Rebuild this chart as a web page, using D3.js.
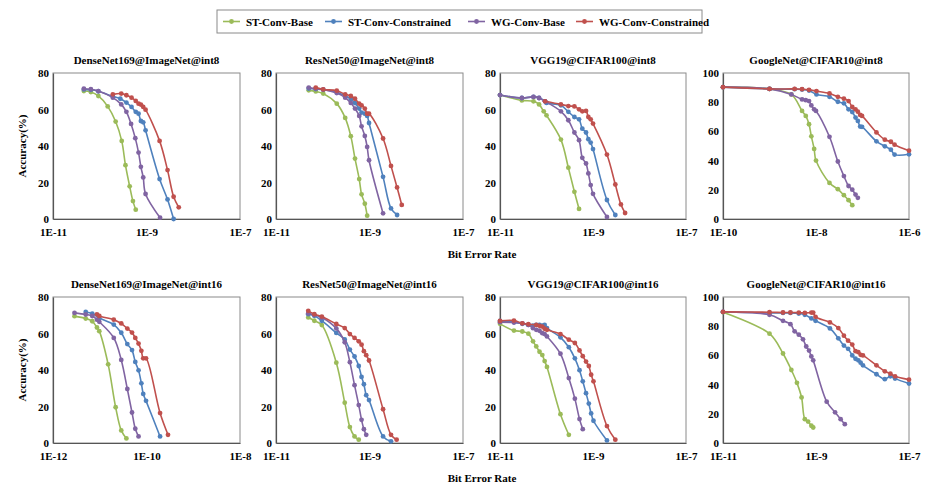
<!DOCTYPE html>
<html>
<head>
<meta charset="utf-8">
<script src="https://cdn.jsdelivr.net/npm/d3@7"></script>
<style>
  body { margin: 0; background: #fff; }
  text { font-family: "Liberation Serif", "Times New Roman", serif; font-weight: bold; fill: #000; }
</style>
</head>
<body>
<script>
// ── Data (x = log10 of bit error rate, y = accuracy %) ──
const seriesNames = ["ST-Conv-Base", "ST-Conv-Constrained", "WG-Conv-Base", "WG-Conv-Constrained"];
const seriesColors = ["#9BBB59", "#4F81BD", "#8064A2", "#C0504D"];

const panelTitles = [
    "DenseNet169@ImageNet@int8", "ResNet50@ImageNet@int8", "VGG19@CIFAR100@int8", "GoogleNet@CIFAR10@int8",
    "DenseNet169@ImageNet@int16", "ResNet50@ImageNet@int16", "VGG19@CIFAR100@int16", "GoogleNet@CIFAR10@int16"
];
const xStartExp = [-11, -11, -11, -10, -12, -11, -11, -11];   // each axis spans 4 decades
const yMaxes = [80, 80, 80, 100, 80, 80, 80, 100];

const denseInt8 = [
    [[-10.34,70.1],[-10.19,69.6],[-10.03,67.4],[-9.83,61.7],[-9.66,53.4],[-9.53,42.8],[-9.45,29.5],[-9.36,17.9],[-9.29,9.8],[-9.23,5.1]],
    [[-10.34,71.0],[-10.19,70.8],[-10.03,70.0],[-9.72,67.2],[-9.56,65.9],[-9.43,63.8],[-9.32,61.4],[-9.23,58.7],[-9.17,57.7],[-9.12,53.7],[-9.07,53.0],[-9.02,48.6],[-8.72,21.9],[-8.55,10.7],[-8.42,0]],
    [[-10.34,71.4],[-10.19,71.1],[-10.03,70.1],[-9.72,66.5],[-9.54,62.8],[-9.43,58.7],[-9.33,52.1],[-9.24,44.3],[-9.17,36.4],[-9.12,28.6],[-9.07,22.8],[-9.02,13.7],[-8.71,0.7]],
    [[-9.72,68.3],[-9.54,68.7],[-9.43,67.8],[-9.32,66.5],[-9.23,64.7],[-9.17,63.2],[-9.12,62.7],[-9.07,61.4],[-9.02,59.9],[-8.72,42.8],[-8.55,26.8],[-8.42,12.2],[-8.31,6.4]]
];
const resInt8 = [
    [[-10.30,70.5],[-10.15,69.9],[-9.99,68.7],[-9.70,63.2],[-9.52,55.4],[-9.40,45.4],[-9.31,33.1],[-9.22,21.9],[-9.17,13.5],[-9.10,8.4],[-9.05,1.8]],
    [[-10.30,71.5],[-10.15,71.2],[-9.99,70.8],[-9.70,69.5],[-9.52,67.5],[-9.40,65.8],[-9.31,63.5],[-9.22,60.5],[-9.17,58.3],[-9.10,57.7],[-9.05,56.5],[-9.01,52.6],[-8.71,23.1],[-8.54,5.8],[-8.41,2.2]],
    [[-10.30,72.0],[-10.15,71.4],[-9.99,71.0],[-9.70,69.0],[-9.52,66.5],[-9.40,63.6],[-9.31,60.5],[-9.22,56.5],[-9.17,50.8],[-9.10,45.5],[-9.05,39.5],[-9.01,32.2],[-8.71,3.1]],
    [[-10.15,72.0],[-9.99,71.0],[-9.70,70.3],[-9.52,68.3],[-9.40,67.4],[-9.31,65.9],[-9.22,63.2],[-9.17,62.3],[-9.10,60.5],[-9.05,57.7],[-9.01,57.7],[-8.71,44.1],[-8.54,29.1],[-8.41,17.3],[-8.31,7.7]]
];
const vggInt8 = [
    [[-11,67.9],[-10.53,65.0],[-10.28,64.5],[-10.16,62.8],[-10.06,59.0],[-10.00,56.8],[-9.69,43.5],[-9.53,28.1],[-9.40,14.9],[-9.30,5.5]],
    [[-11,67.9],[-10.53,66.3],[-10.28,66.9],[-10.16,66.3],[-10.03,64.5],[-10.00,63.6],[-9.69,62.3],[-9.53,58.7],[-9.40,55.9],[-9.30,54.6],[-9.23,49.5],[-9.15,47.4],[-9.10,43.7],[-9.05,41.9],[-9.00,38.3],[-8.70,10.4],[-8.52,2.2]],
    [[-11,67.9],[-10.53,66.3],[-10.28,66.9],[-10.16,66.3],[-10.03,64.5],[-9.69,59.0],[-9.53,54.1],[-9.40,47.4],[-9.30,43.2],[-9.23,33.5],[-9.15,30.4],[-9.10,25.0],[-9.05,18.6],[-9.00,13.8],[-8.70,1.1]],
    [[-10.03,64.5],[-9.69,62.8],[-9.53,61.9],[-9.40,61.7],[-9.30,60.1],[-9.23,59.0],[-9.15,59.2],[-9.10,55.9],[-9.05,54.6],[-9.00,52.3],[-8.70,35.3],[-8.52,18.9],[-8.40,8.0],[-8.31,3.3]]
];
const googleInt8 = [
    [[-10,90.3],[-9.00,89.1],[-8.53,85.3],[-8.30,74.0],[-8.22,70.6],[-8.15,64.9],[-8.10,56.6],[-8.04,48.0],[-8.00,40.0],[-7.71,24.7],[-7.53,20.4],[-7.40,16.3],[-7.30,12.9],[-7.22,9.5]],
    [[-10,90.3],[-9.00,89.1],[-8.46,88.9],[-8.30,88.7],[-8.15,88.0],[-7.99,85.3],[-7.71,83.7],[-7.53,80.3],[-7.40,79.2],[-7.30,75.1],[-7.22,73.3],[-7.15,69.5],[-7.10,67.2],[-7.05,63.3],[-7.01,63.1],[-6.70,53.2],[-6.52,49.8],[-6.39,47.5],[-6.31,44.1],[-6,44.3]],
    [[-10,90.3],[-9.00,89.1],[-8.53,85.3],[-8.30,81.9],[-8.22,81.4],[-8.15,80.8],[-8.10,77.8],[-8.04,75.1],[-8.00,74.0],[-7.71,56.3],[-7.53,39.4],[-7.40,29.4],[-7.30,22.6],[-7.22,20.1],[-7.15,16.7],[-7.10,14.5]],
    [[-10,90.3],[-9.00,89.1],[-8.46,89.1],[-8.30,88.9],[-8.15,88.5],[-7.99,87.6],[-7.71,86.0],[-7.53,83.7],[-7.40,82.4],[-7.30,80.8],[-7.22,76.7],[-7.15,75.1],[-7.10,73.5],[-7.05,71.3],[-7.01,70.6],[-6.70,59.3],[-6.52,54.3],[-6.39,52.9],[-6.31,50.9],[-6,46.8]]
];
const denseInt16 = [
    [[-11.54,69.5],[-11.30,68.2],[-11.16,66.7],[-11.06,63.3],[-11.01,61.3],[-10.82,43.1],[-10.66,19.6],[-10.54,6.9],[-10.43,2.5]],
    [[-11.30,71.8],[-11.16,70.9],[-11.01,68.5],[-10.70,64.9],[-10.54,60.4],[-10.41,54.2],[-10.31,50.9],[-10.24,44.4],[-10.17,39.8],[-10.11,32.7],[-10.07,26.9],[-10.01,23.1],[-9.71,3.6]],
    [[-11.54,71.3],[-11.30,70.4],[-11.16,69.6],[-11.06,67.6],[-11.01,66.4],[-10.70,57.6],[-10.54,45.5],[-10.41,29.6],[-10.31,16.7],[-10.24,7.8],[-10.17,3.6]],
    [[-11.06,70.5],[-11.01,69.6],[-10.70,67.6],[-10.54,65.5],[-10.41,62.7],[-10.31,60.5],[-10.24,57.6],[-10.17,54.5],[-10.11,50.5],[-10.07,46.4],[-10.01,46.4],[-9.71,16.4],[-9.54,4.5]]
];
const resInt16 = [
    [[-10.31,68.8],[-10.18,67.0],[-10.02,64.6],[-9.71,44.0],[-9.53,22.1],[-9.42,8.7],[-9.32,3.6],[-9.23,1.8]],
    [[-10.31,70.6],[-10.18,69.7],[-10.02,67.0],[-9.71,60.3],[-9.53,56.7],[-9.42,51.2],[-9.32,47.4],[-9.23,42.2],[-9.17,36.2],[-9.12,32.2],[-9.07,26.2],[-9.01,23.5],[-8.71,3.6],[-8.54,0.9]],
    [[-10.31,71.1],[-10.18,70.2],[-10.02,68.8],[-9.71,62.8],[-9.53,55.2],[-9.42,44.3],[-9.32,31.7],[-9.23,20.8],[-9.17,12.7],[-9.12,7.6],[-9.07,4.5]],
    [[-10.31,72.4],[-10.18,70.6],[-10.02,69.3],[-9.71,65.2],[-9.53,63.0],[-9.42,59.7],[-9.32,57.6],[-9.23,55.7],[-9.17,53.9],[-9.12,50.3],[-9.07,48.1],[-9.01,45.2],[-8.71,18.5],[-8.54,4.5],[-8.42,1.8]]
];
const vggInt16 = [
    [[-11,65.3],[-10.70,61.6],[-10.52,61.1],[-10.39,59.9],[-10.29,55.7],[-10.22,52.9],[-10.15,50.0],[-10.09,48.2],[-10.04,44.9],[-9.99,41.7],[-9.70,15.8],[-9.52,4.5]],
    [[-11,66.9],[-10.70,66.2],[-10.52,65.3],[-10.39,64.7],[-10.29,64.3],[-10.22,64.7],[-10.15,64.7],[-10.09,64.3],[-10.04,64.7],[-9.99,63.0],[-9.70,57.9],[-9.52,52.5],[-9.39,46.4],[-9.29,39.9],[-9.22,33.8],[-9.15,27.3],[-9.09,21.6],[-9.04,16.2],[-8.99,12.2],[-8.70,1.4]],
    [[-11,66.2],[-10.70,66.0],[-10.52,65.6],[-10.39,64.7],[-10.29,62.9],[-10.22,62.0],[-10.15,61.5],[-10.09,60.2],[-10.04,59.7],[-9.99,58.4],[-9.70,48.9],[-9.52,35.6],[-9.39,24.3],[-9.29,13.1],[-9.22,7.6]],
    [[-11,66.9],[-10.70,67.1],[-10.52,65.6],[-10.39,65.1],[-10.22,64.7],[-10.15,64.2],[-10.09,63.8],[-10.04,62.6],[-9.99,62.0],[-9.70,59.7],[-9.52,56.6],[-9.39,54.8],[-9.29,50.7],[-9.22,47.6],[-9.15,44.6],[-9.09,42.2],[-9.04,37.4],[-8.99,33.8],[-8.70,9.3],[-8.52,1.8]]
];
const googleInt16 = [
    [[-11,89.6],[-10.00,74.9],[-9.71,61.3],[-9.53,50.0],[-9.41,41.2],[-9.31,31.2],[-9.24,16.3],[-9.17,14.7],[-9.10,11.8],[-9.06,10.6]],
    [[-11,89.8],[-10.00,89.1],[-9.71,89.1],[-9.55,89.1],[-9.37,88.7],[-9.24,87.8],[-9.10,85.3],[-9.01,83.7],[-8.70,78.5],[-8.52,71.7],[-8.40,66.7],[-8.31,64.5],[-8.22,60.0],[-8.15,57.7],[-8.09,56.6],[-8.04,55.0],[-7.99,53.2],[-7.70,47.1],[-7.52,43.7],[-7.40,45.7],[-7.30,44.1],[-7,40.7]],
    [[-11,89.8],[-10.00,87.8],[-9.71,83.7],[-9.55,81.4],[-9.46,76.5],[-9.37,74.2],[-9.28,71.0],[-9.21,66.1],[-9.15,63.3],[-9.10,59.3],[-9.06,56.6],[-8.77,28.3],[-8.59,21.0],[-8.47,16.3],[-8.38,12.9]],
    [[-11,89.8],[-10.00,89.6],[-9.71,89.4],[-9.55,89.4],[-9.37,89.3],[-9.24,89.1],[-9.10,89.3],[-9.06,89.3],[-9.01,86.4],[-8.70,82.6],[-8.52,78.7],[-8.40,73.5],[-8.31,70.1],[-8.22,67.4],[-8.15,62.9],[-8.09,62.2],[-8.04,60.4],[-7.99,60.0],[-7.70,53.2],[-7.52,49.1],[-7.40,47.5],[-7.30,45.7],[-7,43.4]]
];
const panelData = [denseInt8, resInt8, vggInt8, googleInt8, denseInt16, resInt16, vggInt16, googleInt16];

// ── Layout ──
const width = 941, height = 498;
const colsX = [[53, 240], [276, 463], [500, 686], [723, 909]];
const rowsY = [[73, 219], [297, 443]];

const svg = d3.select("body").append("svg")
    .attr("width", width)
    .attr("height", height);

const line = d3.line().curve(d3.curveCatmullRom.alpha(0.5));

panelData.forEach((series, i) => {
    const [x0, x1] = colsX[i % 4];
    const [y0, y1] = rowsY[Math.floor(i / 4)];
    const s = xStartExp[i];

    const x = d3.scaleLog().domain([10 ** s, 10 ** (s + 4)]).range([x0, x1]);
    const y = d3.scaleLinear().domain([0, yMaxes[i]]).range([y1, y0]);

    const g = svg.append("g");

    // frame
    g.append("rect")
        .attr("x", x0).attr("y", y0)
        .attr("width", x1 - x0).attr("height", y1 - y0)
        .attr("fill", "none")
        .attr("stroke", "#8a8a8a")
        .attr("stroke-width", 1);

    // title
    g.append("text")
        .attr("x", (x0 + x1) / 2)
        .attr("y", y0 - 9)
        .attr("text-anchor", "middle")
        .style("font-size", "11px")
        .text(panelTitles[i]);

    // axes
    const yAxis = g.append("g")
        .attr("transform", `translate(${x0},0)`)
        .call(d3.axisLeft(y).tickValues(d3.range(0, yMaxes[i] + 1, 20)).tickSize(0).tickPadding(4));
    const xAxis = g.append("g")
        .attr("transform", `translate(0,${y1})`)
        .call(d3.axisBottom(x)
            .tickValues([10 ** s, 10 ** (s + 2), 10 ** (s + 4)])
            .tickFormat(d => "1E" + Math.round(Math.log10(d)))
            .tickSize(0).tickPadding(9));
    [yAxis, xAxis].forEach(a => {
        a.select(".domain").attr("stroke", "#555").attr("stroke-width", 1.2);
        a.selectAll("text")
            .style("font-family", '"Liberation Serif", serif')
            .style("font-weight", "bold")
            .style("font-size", "11px")
            .attr("fill", "#000");
    });

    // series
    series.forEach((pts, k) => {
        const xy = pts.map(p => [x(10 ** p[0]), y(p[1])]);
        g.append("path")
            .attr("d", line(xy))
            .attr("fill", "none")
            .attr("stroke", seriesColors[k])
            .attr("stroke-width", 1.6);
        g.selectAll(null)
            .data(xy)
            .enter()
            .append("circle")
            .attr("cx", d => d[0])
            .attr("cy", d => d[1])
            .attr("r", 2.4)
            .attr("fill", seriesColors[k]);
    });
});

// ── Axis titles ──
svg.append("text").attr("x", 482).attr("y", 258).attr("text-anchor", "middle")
    .style("font-size", "11px").text("Bit Error Rate");
svg.append("text").attr("x", 482).attr("y", 482).attr("text-anchor", "middle")
    .style("font-size", "11px").text("Bit Error Rate");
[146, 370].forEach(cy => {
    svg.append("text")
        .attr("transform", `translate(26,${cy}) rotate(-90)`)
        .attr("text-anchor", "middle")
        .style("font-size", "11px")
        .text("Accuracy(%)");
});

// ── Legend ──
const legend = svg.append("g");
legend.append("rect")
    .attr("x", 217).attr("y", 10)
    .attr("width", 485).attr("height", 23)
    .attr("fill", "#fff")
    .attr("stroke", "#8a8a8a");
const legendX = [223, 325, 468, 576];
seriesNames.forEach((name, k) => {
    const lx = legendX[k];
    legend.append("line")
        .attr("x1", lx).attr("x2", lx + 17)
        .attr("y1", 21.5).attr("y2", 21.5)
        .attr("stroke", seriesColors[k]).attr("stroke-width", 1.6);
    legend.append("circle")
        .attr("cx", lx + 8.5).attr("cy", 21.5).attr("r", 2.4)
        .attr("fill", seriesColors[k]);
    legend.append("text")
        .attr("x", lx + 23).attr("y", 25.5)
        .style("font-size", "11px")
        .text(name);
});
</script>
</body>
</html>
